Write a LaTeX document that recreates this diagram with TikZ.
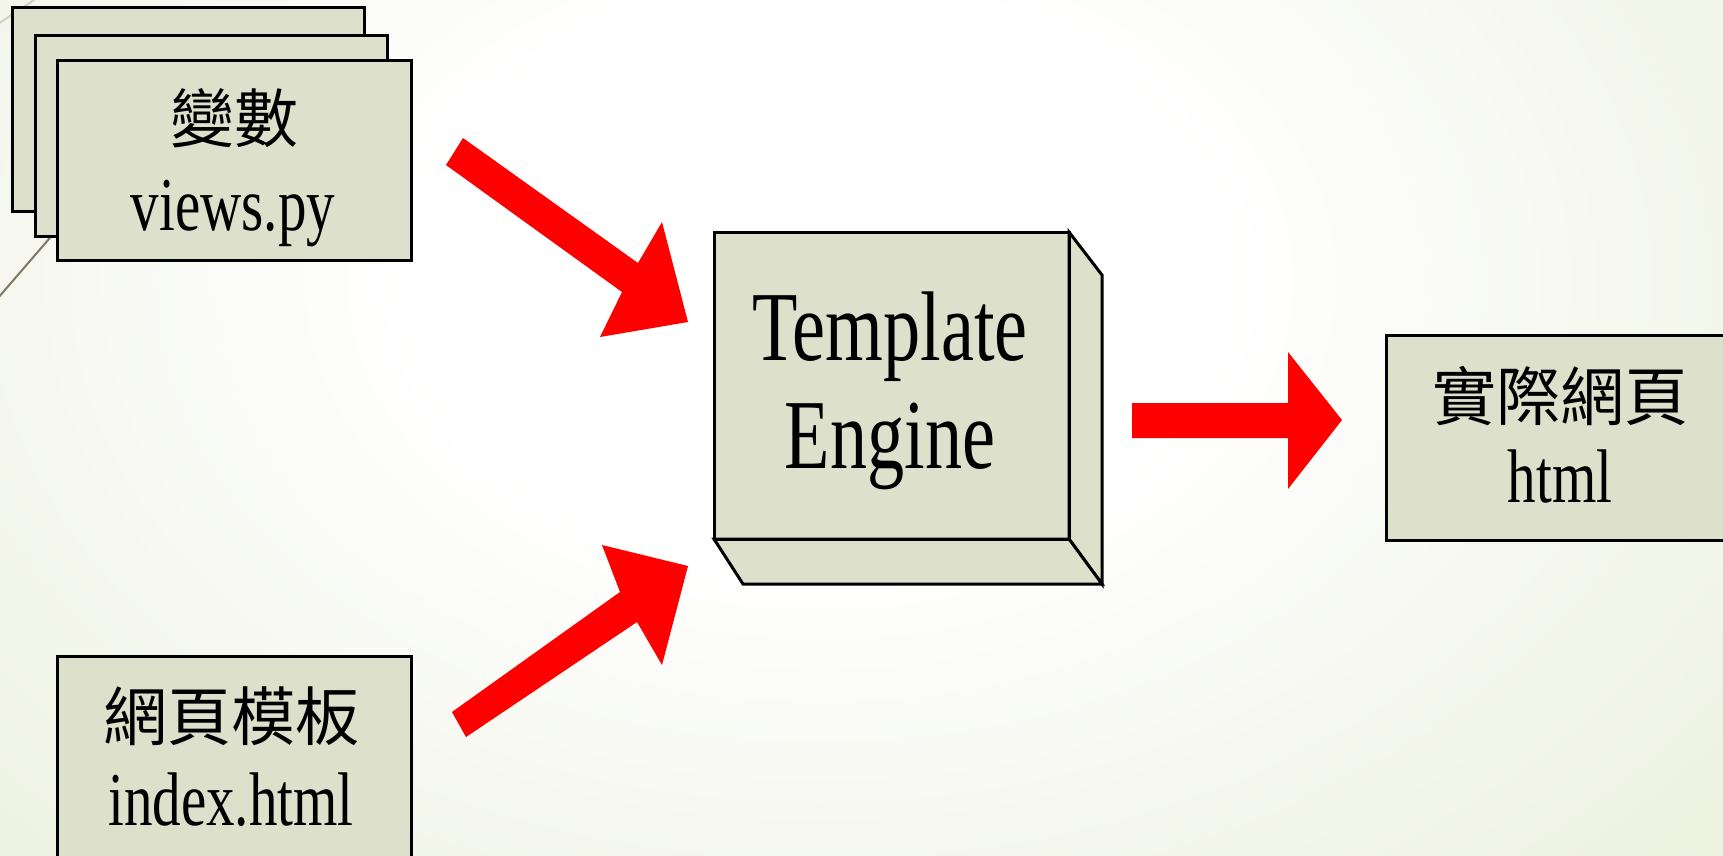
\documentclass[tikz,border=0pt]{standalone}
\usepackage{fontspec}
\setmainfont{Liberation Serif}[FakeStretch=0.75]
\newfontfamily\cjk{Noto Sans CJK TC}
\usetikzlibrary{calc}
\definecolor{boxfill}{RGB}{221,224,203}
\definecolor{bgmid}{RGB}{238,242,226}
\definecolor{bgedge}{RGB}{225,233,203}
\definecolor{swoosh}{RGB}{128,120,98}
\definecolor{swooshlight}{RGB}{205,208,190}
\pgfdeclareradialshading{bgshade}{\pgfpoint{0bp}{0bp}}{color(0bp)=(white); color(10bp)=(white); color(28bp)=(bgmid); color(50bp)=(bgedge)}
\begin{document}
\begin{tikzpicture}[x=1pt,y=-1pt,
  card/.style={draw=black, line width=3pt, fill=boxfill, rectangle, inner sep=0pt, outer sep=0pt, anchor=north west},
  side/.style={draw=black, line width=3pt, fill=boxfill, line join=miter},
  cjktext/.style={anchor=base, inner sep=0pt, font={\cjk\fontsize{64}{70}\selectfont}},
  latintext/.style={anchor=base, inner sep=0pt, font={\fontsize{76}{80}\selectfont}},
  bigtext/.style={anchor=base, inner sep=0pt, font={\fontsize{99}{100}\selectfont}},
  blockarrow/.style={fill=red}]
\useasboundingbox (0,0) rectangle (1723,855);
\clip (0,0) rectangle (1723,855);
% background
\shade[shading=bgshade] (-200,-430) rectangle (1840,990);
% decorative swooshes
\draw[swooshlight, line width=2pt] (-2,24) -- (40,-4);
\draw[swoosh, line width=2pt] (-2,298) -- (80,203);
% stacked variable cards
\node[card, minimum width=352pt, minimum height=204pt] (var1) at (12,7) {};
\node[card, minimum width=352pt, minimum height=201pt] (var2) at (35,35) {};
\node[card, minimum width=354pt, minimum height=200pt] (var3) at (57,60) {};
\node[cjktext] (varzh) at (234,142) {變數};
\node[latintext] (varen) at (233,230) {views.py};
% template card
\node[card, minimum width=354pt, minimum height=220pt] (tpl) at (57,656) {};
\node[cjktext] (tplzh) at (231,740) {網頁模板};
\node[latintext] (tplen) at (231,825) {index.html};
% engine 3D box
\node[card, minimum width=355pt, minimum height=307pt] (eng) at (714,232) {};
\draw[side] (eng.north east) -- ($(eng.north east)+(33,43)$) -- ($(eng.south east)+(33,45)$) -- (eng.south east) -- cycle;
\draw[side] (eng.south west) -- ($(eng.south west)+(29,45)$) -- ($(eng.south east)+(33,45)$) -- (eng.south east) -- cycle;
\draw[line width=3pt] (eng.north west) rectangle (eng.south east);
\node[bigtext] (engl1) at (890,360) {Template};
\node[bigtext] (engl2) at (890,468) {Engine};
% result card
\node[card, minimum width=360pt, minimum height=205pt] (res) at (1386,335) {};
\node[cjktext] (reszh) at (1560,420) {實際網頁};
\node[latintext] (resen) at (1560,502) {html};
% arrows
\fill[blockarrow] (463,138) -- (638,263) -- (662,222) -- (688,322) -- (600,337) -- (622,292) -- (446,165) -- cycle;
\fill[blockarrow] (452,712) -- (620,592) -- (602,545) -- (688,566) -- (662,665) -- (637,622) -- (466,737) -- cycle;
\fill[blockarrow] (1132,403) -- (1288,403) -- (1288,352) -- (1342,420) -- (1288,489) -- (1288,438) -- (1132,438) -- cycle;
\end{tikzpicture}
\end{document}
